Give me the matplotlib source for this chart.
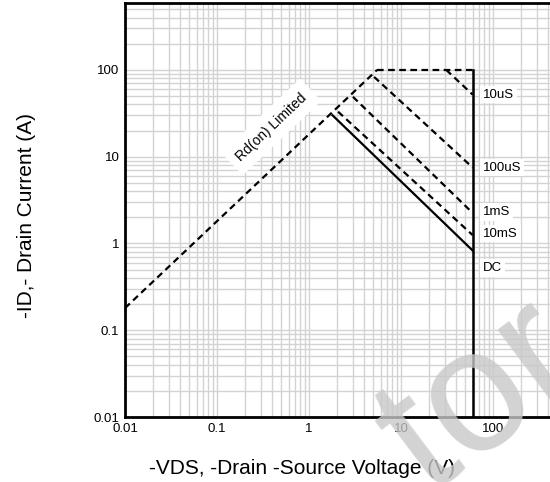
import numpy as np
import matplotlib
matplotlib.use("Agg")
import matplotlib.pyplot as plt

plt.rcParams['font.family'] = ['Liberation Sans', 'DejaVu Sans']

# Rd(on) limit line and flat current limit
rds_v = [0.01, 5.5]
rds_i = [0.18, 100]
top_v = [5.5, 60]
top_i = [100, 100]

# pulse curves (V, I)
p10us_v = [31, 60]
p10us_i = [100, 52]
p100us_v = [5.1, 60]
p100us_i = [83, 7.5]
p1ms_v = [3.0, 60]
p1ms_i = [49, 2.25]
p10ms_v = [2.07, 60]
p10ms_i = [33, 1.25]
dc_v = [1.8, 60]
dc_i = [30, 0.83]
vmax_v = [60, 60]
vmax_i = [0.01, 100]

labels = ['10uS', '100uS', '1mS', '10mS', 'DC']
label_i = [52, 7.5, 2.3, 1.3, 0.52]

fig = plt.figure(figsize=(5.5, 4.82), dpi=100)
ax = fig.add_axes([125/550, 65/482, 460/550, 414/482])
ax.set_xscale('log')
ax.set_yscale('log')
ax.set_xlim(0.01, 1000)
ax.set_ylim(0.01, 590)

ax.grid(True, which='both', color='#d3d3d3', lw=1.0)
ax.set_axisbelow(True)
ax.tick_params(which='both', length=0, labelsize=9.5, pad=4)
ax.set_xticks([0.01, 0.1, 1, 10, 100])
ax.set_xticklabels(['0.01', '0.1', '1', '10', '100'])
ax.set_yticks([0.01, 0.1, 1, 10, 100])
ax.set_yticklabels(['0.01', '0.1', '1', '10', '100'])
for s in ax.spines.values():
    s.set_linewidth(2)

dash = (0, (3, 2))
ax.plot(rds_v, rds_i, color='black', lw=1.6, ls=dash)
ax.plot(top_v, top_i, color='black', lw=1.6, ls=dash)
ax.plot(p10us_v, p10us_i, color='black', lw=1.6, ls=dash)
ax.plot(p100us_v, p100us_i, color='black', lw=1.6, ls=dash)
ax.plot(p1ms_v, p1ms_i, color='black', lw=1.6, ls=dash)
ax.plot(p10ms_v, p10ms_i, color='black', lw=1.6, ls=dash)
ax.plot(dc_v, dc_i, color='black', lw=1.6)
ax.plot(vmax_v, vmax_i, color='black', lw=1.8)

for lab, yi in zip(labels, label_i):
    ax.text(78, yi, lab, fontsize=9.5, va='center', ha='left',
            bbox=dict(facecolor='white', edgecolor='none', pad=2))

ax.text(0.39, 22, 'Rd(on) Limited', fontsize=10, rotation=43.5,
        ha='center', va='center', rotation_mode='anchor',
        bbox=dict(facecolor='white', edgecolor='none', pad=6))

ax.set_xlabel('-VDS, -Drain -Source Voltage (V)', fontsize=15)
ax.set_ylabel('-ID,- Drain Current (A)', fontsize=15)
ax.xaxis.set_label_coords(177/460, -42/414)
ax.yaxis.set_label_coords(-89/460, 201/414)

# watermark
fig.text(0.875, 0.175, 'tor', fontsize=125, color='#c8c8c8', alpha=0.8,
         rotation=37, ha='center', va='center')

fig.savefig('out.png', dpi=100)
